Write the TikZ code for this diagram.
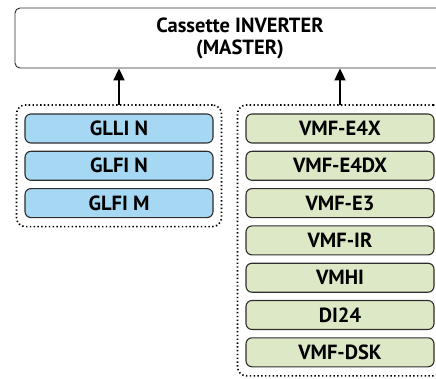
\documentclass[tikz,border=0pt]{standalone}
\usepackage{fontspec}
\setmainfont{PT Sans}
\definecolor{SkyBlue}{RGB}{166, 215, 243}
\definecolor{Sage}{RGB}{221, 233, 198}
\definecolor{EdgeGray}{RGB}{45, 45, 45}
\usetikzlibrary{arrows.meta, positioning, fit}

\begin{document}
\begin{tikzpicture}[x=1pt, y=1pt, node distance=8.3pt,
    every node/.style={font=\fontsize{20.5}{22}\selectfont\bfseries},
    unitbox/.style={draw=EdgeGray, line width=1.1pt, rectangle, rounded corners=6pt, minimum width=188pt, minimum height=29pt, inner sep=0pt, outer sep=0pt},
    groupbox/.style={draw=black, line width=1.6pt, dash pattern=on 1.4pt off 2.4pt, rounded corners=9pt, inner xsep=8.5pt, inner ysep=9pt, outer sep=0pt},
    upline/.style={-{Triangle[length=12pt, width=11pt]}, line width=2pt}]
    \clip (0,0) rectangle (436,-379);
    \useasboundingbox (0,0) rectangle (436,-379);
    % master unit
    \node[draw=EdgeGray, line width=0.9pt, rectangle, rounded corners=5pt, minimum width=450pt, minimum height=60pt, align=center] (master) at (240,-38) {Cassette INVERTER\\(MASTER)};

    % left column
    \node[unitbox, fill=SkyBlue] (glli) at (119,-128.5) {GLLI N};
    \node[unitbox, fill=SkyBlue, below=of glli] (glfin) {GLFI N};
    \node[unitbox, fill=SkyBlue, below=of glfin] (glfim) {GLFI M};

    % right column
    \node[unitbox, fill=Sage] (efourx) at (340,-128.5) {VMF-E4X};
    \node[unitbox, fill=Sage, below=of efourx] (efourdx) {VMF-E4DX};
    \node[unitbox, fill=Sage, below=of efourdx] (ethree) {VMF-E3};
    \node[unitbox, fill=Sage, below=of ethree] (ir) {VMF-IR};
    \node[unitbox, fill=Sage, below=of ir] (vmhi) {VMHI};
    \node[unitbox, fill=Sage, below=of vmhi] (ditf) {DI24};
    \node[unitbox, fill=Sage, below=of ditf] (dsk) {VMF-DSK};

    \node[groupbox, fit=(glli) (glfim)] (leftgrp) {};
    \node[groupbox, fit=(efourx) (dsk)] (rightgrp) {};

    \draw[upline] (leftgrp.north) -- (leftgrp.north |- master.south);
    \draw[upline] (rightgrp.north) -- (rightgrp.north |- master.south);
\end{tikzpicture}
\end{document}
